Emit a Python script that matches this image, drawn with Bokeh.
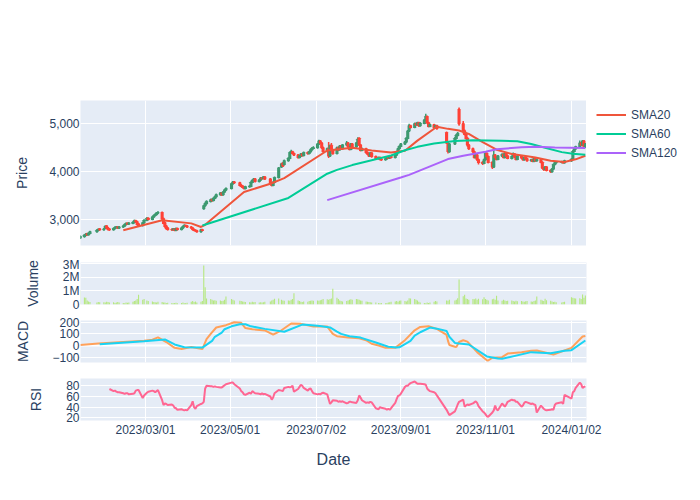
import pandas as pd
from bokeh.plotting import figure
from bokeh.layouts import column, row
from bokeh.models import (ColumnDataSource, Range1d, FixedTicker, DatetimeTickFormatter,
                          NumeralTickFormatter, Legend, LegendItem, Span)
from bokeh.embed import file_html
from bokeh.resources import INLINE

FONT = "Liberation Sans"
TXT = "#2a3f5f"
BG = "#E5ECF6"
DAY_MS = 86400000

# ---------------- data ----------------
HOLIDAYS = ["2023-01-23", "2023-01-24", "2023-03-01", "2023-05-01", "2023-05-05", "2023-05-29",
            "2023-06-06", "2023-08-15", "2023-09-28", "2023-09-29", "2023-10-02", "2023-10-03",
            "2023-10-09", "2023-12-25", "2023-12-29", "2024-01-01"]
trading_days = [d for d in pd.bdate_range("2023-01-13", "2024-01-12")
                if d.strftime("%Y-%m-%d") not in HOLIDAYS]

TICK_DATES = ["2023-03-01", "2023-05-01", "2023-07-02", "2023-09-01", "2023-11-01", "2024-01-02"]

open_ = [
    2620,
    2650, 2680, 2710, 2690, 2720,
    2750, 2780, 2810,
    2790, 2830, 2870, 2830, 2810,
    2790, 2820, 2840, 2850, 2830,
    2850, 2870, 2900, 2930, 2910,
    2930, 2950, 2980, 2960, 2910,
    2880, 2940, 2990, 3030,
    3010, 3060, 3090, 3110, 3140,
    3150, 3020, 2940, 2870, 2830,
    2800, 2790, 2810, 2780, 2820,
    2800, 2830, 2860, 2880, 2870,
    2850, 2830, 2800, 2780, 2770,
    2750, 2790, 3230, 3290, 3340,
    3380, 3420, 3400, 3450, 3480,
    3520, 3560, 3520, 3580, 3620,
    3650, 3750, 3790,
    3770, 3720, 3700, 3680, 3650,
    3690, 3700, 3780, 3820, 3850,
    3800, 3830, 3870, 3860, 3890,
    3850, 3760, 3720, 3780,
    3880, 4100, 4180, 4150,
    4230, 4280, 4400, 4420, 4380,
    4350, 4300, 4330, 4370, 4340,
    4400, 4380, 4420, 4460, 4490,
    4500, 4580, 4640, 4600, 4500,
    4430, 4480, 4330, 4550, 4450,
    4380, 4500, 4460, 4540, 4480,
    4560, 4600, 4520, 4470, 4580,
    4520, 4600, 4700, 4560, 4450,
    4480, 4400, 4370, 4330, 4390,
    4320, 4280, 4300, 4260,
    4250, 4270, 4300, 4290, 4320,
    4300, 4350, 4420, 4480, 4530,
    4580, 4620, 4700, 4850, 4960,
    4930, 5000, 4980, 5020, 4960,
    5010, 5080, 5150, 5020, 4950,
    4980, 4920, 4960,
    4820, 4600, 4420,
    4580, 4700, 4760, 5300,
    5000, 4850, 4780, 4700, 4560,
    4480, 4420, 4300, 4350, 4250,
    4200, 4180, 4250, 4380, 4320,
    4200, 4100, 4350, 4300, 4260,
    4330, 4360, 4300, 4380, 4330,
    4280, 4320, 4370, 4310, 4260,
    4330, 4290, 4250, 4300, 4270,
    4230, 4250, 4220, 4270, 4230,
    4250, 4200, 4080, 4050, 4100,
    4030, 4000, 4060, 4150, 4190,
    4200, 4210, 4190,
    4230, 4260, 4430, 4480,
    4520, 4600, 4560, 4640, 4520,
]

close_ = [
    2650,
    2680, 2700, 2690, 2720, 2750,
    2780, 2800, 2790,
    2810, 2860, 2830, 2800, 2790,
    2820, 2840, 2850, 2830, 2850,
    2870, 2900, 2920, 2910, 2930,
    2950, 2980, 2960, 2900, 2880,
    2940, 2990, 3030, 3010,
    3060, 3090, 3110, 3140, 3150,
    3020, 2930, 2860, 2820, 2800,
    2790, 2810, 2780, 2820, 2800,
    2830, 2860, 2880, 2870, 2850,
    2830, 2800, 2780, 2770, 2750,
    2790, 2780, 3290, 3340, 3380,
    3420, 3400, 3450, 3480, 3520,
    3560, 3520, 3580, 3620, 3650,
    3750, 3790, 3770,
    3720, 3700, 3680, 3650, 3690,
    3700, 3780, 3820, 3850, 3800,
    3830, 3870, 3860, 3890, 3850,
    3760, 3720, 3780, 3880,
    4080, 4160, 4120, 4230,
    4280, 4400, 4420, 4380, 4350,
    4300, 4330, 4370, 4340, 4400,
    4380, 4420, 4460, 4490, 4500,
    4580, 4640, 4600, 4500, 4430,
    4480, 4330, 4550, 4450, 4380,
    4500, 4460, 4540, 4480, 4560,
    4600, 4520, 4470, 4580, 4520,
    4600, 4680, 4560, 4450, 4480,
    4400, 4370, 4330, 4390, 4320,
    4280, 4300, 4260, 4250,
    4270, 4300, 4290, 4320, 4300,
    4350, 4420, 4480, 4530, 4580,
    4620, 4700, 4850, 4960, 4930,
    5000, 4980, 5020, 4960, 5010,
    5080, 5150, 5020, 4950, 4980,
    4920, 4960, 4900,
    4600, 4430, 4580,
    4700, 4760, 4800, 5000,
    4850, 4780, 4700, 4560, 4480,
    4420, 4300, 4350, 4250, 4200,
    4180, 4250, 4380, 4320, 4200,
    4100, 4350, 4300, 4260, 4330,
    4360, 4300, 4380, 4330, 4280,
    4320, 4370, 4310, 4260, 4330,
    4290, 4250, 4300, 4270, 4230,
    4250, 4220, 4270, 4230, 4250,
    4200, 4080, 4050, 4100, 4030,
    4000, 4060, 4150, 4190, 4200,
    4210, 4190, 4230,
    4260, 4430, 4480, 4520,
    4600, 4560, 4640, 4520, 4580,
]

high_ = [
    2670,
    2700, 2720, 2720, 2730, 2760,
    2800, 2820, 2820,
    2830, 2880, 2880, 2850, 2820,
    2830, 2860, 2870, 2860, 2860,
    2880, 2910, 2940, 2940, 2950,
    2960, 3000, 2990, 2970, 2920,
    2950, 3000, 3050, 3040,
    3070, 3100, 3130, 3160, 3180,
    3160, 3040, 2960, 2880, 2840,
    2820, 2830, 2820, 2830, 2830,
    2840, 2870, 2900, 2890, 2880,
    2860, 2840, 2810, 2790, 2780,
    2800, 2810, 3310, 3360, 3400,
    3440, 3440, 3460, 3500, 3540,
    3580, 3570, 3590, 3640, 3670,
    3770, 3810, 3800,
    3780, 3740, 3720, 3700, 3700,
    3720, 3790, 3840, 3870, 3860,
    3840, 3890, 3880, 3910, 3900,
    3860, 3780, 3790, 3890,
    4100, 4190, 4200, 4250,
    4300, 4420, 4460, 4430, 4390,
    4360, 4340, 4390, 4380, 4410,
    4410, 4430, 4480, 4510, 4530,
    4590, 4670, 4660, 4610, 4520,
    4500, 4620, 4560, 4600, 4470,
    4520, 4520, 4560, 4560, 4580,
    4640, 4610, 4540, 4600, 4600,
    4620, 4720, 4710, 4570, 4500,
    4490, 4420, 4390, 4400, 4400,
    4330, 4310, 4310, 4280,
    4290, 4310, 4310, 4330, 4330,
    4360, 4430, 4500, 4540, 4600,
    4640, 4720, 4870, 5000, 4970,
    5020, 5020, 5040, 5030, 5030,
    5090, 5210, 5160, 5030, 5000,
    4990, 4970, 4970,
    4830, 4620, 4600,
    4720, 4790, 4830, 5340,
    5060, 4880, 4800, 4720, 4580,
    4500, 4440, 4370, 4360, 4270,
    4220, 4270, 4400, 4400, 4330,
    4210, 4470, 4360, 4310, 4340,
    4380, 4380, 4400, 4390, 4340,
    4330, 4400, 4380, 4320, 4340,
    4340, 4300, 4310, 4320, 4280,
    4260, 4270, 4280, 4280, 4260,
    4260, 4210, 4100, 4110, 4110,
    4040, 4070, 4160, 4200, 4220,
    4220, 4220, 4240,
    4270, 4450, 4500, 4540,
    4650, 4620, 4660, 4650, 4600,
]

low_ = [
    2600,
    2630, 2670, 2680, 2680, 2710,
    2740, 2770, 2780,
    2780, 2820, 2820, 2790, 2770,
    2780, 2810, 2830, 2820, 2820,
    2840, 2860, 2890, 2900, 2900,
    2920, 2940, 2950, 2890, 2860,
    2870, 2930, 2980, 3000,
    3000, 3050, 3080, 3100, 3120,
    3000, 2910, 2840, 2800, 2780,
    2770, 2780, 2770, 2770, 2790,
    2790, 2820, 2850, 2860, 2840,
    2820, 2790, 2770, 2750, 2740,
    2740, 2770, 3220, 3280, 3320,
    3370, 3380, 3390, 3440, 3470,
    3510, 3500, 3510, 3570, 3610,
    3640, 3740, 3750,
    3710, 3690, 3660, 3640, 3640,
    3680, 3690, 3770, 3810, 3790,
    3790, 3820, 3840, 3850, 3840,
    3750, 3700, 3710, 3770,
    3870, 4080, 4100, 4140,
    4220, 4270, 4390, 4370, 4330,
    4280, 4290, 4320, 4320, 4330,
    4360, 4370, 4410, 4450, 4480,
    4490, 4570, 4590, 4480, 4400,
    4420, 4290, 4320, 4430, 4360,
    4370, 4440, 4450, 4470, 4470,
    4550, 4500, 4450, 4460, 4500,
    4510, 4590, 4540, 4430, 4440,
    4380, 4350, 4310, 4320, 4300,
    4250, 4260, 4240, 4230,
    4240, 4260, 4270, 4280, 4290,
    4290, 4340, 4410, 4470, 4520,
    4570, 4600, 4690, 4830, 4900,
    4920, 4960, 4960, 4940, 4950,
    5000, 5070, 5000, 4930, 4940,
    4900, 4910, 4880,
    4580, 4380, 4400,
    4570, 4680, 4740, 4960,
    4800, 4760, 4680, 4520, 4460,
    4400, 4280, 4280, 4230, 4150,
    4140, 4160, 4240, 4300, 4180,
    4060, 4080, 4280, 4240, 4250,
    4310, 4290, 4290, 4320, 4270,
    4260, 4310, 4300, 4240, 4250,
    4280, 4240, 4240, 4260, 4220,
    4220, 4210, 4210, 4220, 4220,
    4190, 4060, 4020, 4040, 4010,
    3980, 3990, 4050, 4140, 4180,
    4180, 4180, 4180,
    4210, 4250, 4420, 4460,
    4510, 4540, 4550, 4500, 4500,
]

# volume in millions of shares
volume_m = [
    1.04,
    0.52, 0.50, 0.30, 0.22, 0.18,
    0.15, 0.18, 0.16,
    0.17, 0.15, 0.20, 0.18, 0.14,
    0.16, 0.12, 0.15, 0.18, 0.14,
    0.12, 0.10, 0.14, 0.13, 0.15,
    0.20, 0.25, 0.30, 0.40, 0.72,
    0.35, 0.40, 0.30, 0.25,
    0.22, 0.18, 0.16, 0.15, 0.20,
    0.18, 0.15, 0.14, 0.12, 0.13,
    0.12, 0.10, 0.11, 0.13, 0.10,
    0.12, 0.14, 0.10, 0.12, 0.13,
    0.20, 0.25, 0.18, 0.22, 0.15,
    0.20, 0.25, 2.89, 1.28, 0.45,
    0.40, 0.35, 0.30, 0.32, 0.28,
    0.30, 0.25, 0.28, 0.35, 0.59,
    0.40, 0.35, 0.30,
    0.28, 0.25, 0.22, 0.20, 0.18,
    0.17, 0.15, 0.20, 0.16, 0.18,
    0.15, 0.17, 0.14, 0.16, 0.20,
    0.22, 0.30, 0.35, 0.42,
    0.45, 0.35, 0.30, 0.28,
    0.30, 0.28, 0.35, 0.40, 0.84,
    0.30, 0.25, 0.20, 0.18, 0.22,
    0.20, 0.25, 0.28, 0.30, 0.27,
    0.30, 0.28, 0.32, 0.35, 0.40,
    0.38, 0.35, 0.40, 0.45, 1.16,
    0.50, 0.40, 0.30, 0.25, 0.22,
    0.25, 0.30, 0.35, 0.38, 0.35,
    0.40, 0.38, 0.35, 0.30, 0.28,
    0.22, 0.20, 0.18, 0.16, 0.15,
    0.14, 0.12, 0.10, 0.12,
    0.10, 0.12, 0.14, 0.16, 0.20,
    0.22, 0.25, 0.20, 0.28, 0.30,
    0.25, 0.22, 0.30, 0.47, 0.45,
    0.40, 0.35, 0.30, 0.20, 0.15,
    0.12, 0.10, 0.14, 0.12, 0.15,
    0.20, 0.25, 0.22,
    0.30, 0.28, 0.35,
    0.30, 0.35, 0.47, 1.85,
    0.62, 0.72, 0.45, 0.40, 0.35,
    0.40, 0.38, 0.45, 0.35, 0.42,
    0.38, 0.54, 0.40, 0.35, 0.30,
    0.38, 0.42, 0.35, 0.64, 0.30,
    0.28, 0.35, 0.30, 0.25, 0.27,
    0.30, 0.25, 0.22, 0.28, 0.24,
    0.25, 0.22, 0.20, 0.24, 0.26,
    0.22, 0.20, 0.25, 0.30, 0.60,
    0.35, 0.30, 0.25, 0.42, 0.32,
    0.28, 0.22, 0.18, 0.20, 0.16,
    0.15, 0.18, 0.20,
    0.54, 0.50, 0.47, 0.45,
    0.47, 0.40, 0.74, 0.50, 0.67,
]

sma20_dates = ["2023-02-13", "2023-03-13", "2023-04-03", "2023-04-10", "2023-04-13", "2023-05-11",
               "2023-05-30", "2023-06-09", "2023-07-10", "2023-07-28", "2023-08-11", "2023-08-25",
               "2023-09-04", "2023-09-13", "2023-09-27", "2023-10-05", "2023-10-13", "2023-10-20",
               "2023-10-30", "2023-11-09", "2023-11-20", "2023-11-30", "2023-12-07", "2023-12-18",
               "2023-12-28", "2024-01-05", "2024-01-12"]
sma20_vals = [2780, 2990, 2925, 2850, 2896, 3580,
              3750, 3868, 4444, 4500, 4444, 4400,
              4440, 4650, 4940, 4895, 4860, 4790,
              4620, 4460, 4370, 4330, 4300, 4230,
              4205, 4260, 4335]

sma60_dates = ["2023-04-11", "2023-06-12", "2023-07-10", "2023-07-17", "2023-07-28", "2023-08-11",
               "2023-08-25", "2023-09-04", "2023-09-13", "2023-09-25", "2023-10-10", "2023-10-23",
               "2023-11-13", "2023-11-24", "2023-12-04", "2023-12-14", "2023-12-26", "2024-01-03",
               "2024-01-12"]
sma60_vals = [2880, 3455, 3960, 4040, 4140, 4240,
              4340, 4450, 4520, 4590, 4640, 4655,
              4645, 4635, 4580, 4500, 4410, 4375,
              4355]

sma120_dates = ["2023-07-10", "2023-09-01", "2023-09-07", "2023-10-05", "2023-10-16", "2023-11-01",
                "2023-11-09", "2023-11-27", "2023-12-08", "2023-12-21", "2024-01-12"]
sma120_vals = [3410, 3880, 3935, 4265, 4335, 4420,
               4470, 4510, 4520, 4505, 4495]

macd_dates = ["2023-01-13", "2023-01-26", "2023-02-28", "2023-03-06", "2023-03-10", "2023-03-16",
              "2023-03-22", "2023-03-27", "2023-04-03", "2023-04-11", "2023-04-14", "2023-04-17",
              "2023-04-21", "2023-04-28", "2023-05-04", "2023-05-09", "2023-05-12", "2023-05-17",
              "2023-05-26", "2023-06-01", "2023-06-07", "2023-06-14", "2023-06-21", "2023-06-30",
              "2023-07-10", "2023-07-14", "2023-07-17", "2023-07-25", "2023-08-02", "2023-08-07",
              "2023-08-11", "2023-08-16", "2023-08-21", "2023-08-28", "2023-09-04", "2023-09-11",
              "2023-09-15", "2023-09-21", "2023-09-27", "2023-10-04", "2023-10-05", "2023-10-06",
              "2023-10-10", "2023-10-11", "2023-10-13", "2023-10-16", "2023-10-19", "2023-10-26",
              "2023-11-02", "2023-11-03", "2023-11-06", "2023-11-13", "2023-11-17", "2023-11-27",
              "2023-12-04", "2023-12-08", "2023-12-20", "2024-01-02", "2024-01-10", "2024-01-12"]
macd_vals = [4, 17, 40, 50, 70, 30,
             -20, -30, -12, -31, 55, 100,
             155, 175, 200, 195, 150, 140,
             130, 94, 131, 189, 186, 163,
             163, 100, 80, 69, 62, 45,
             15, 0, -20, -20, 46, 131,
             160, 166, 143, 91, 40, 5,
             -10, -14, 30, 45, 33, -57,
             -126, -129, -105, -100, -69, -57,
             -46, -43, -77, -20, 77, 82]

signal_dates = ["2023-01-27", "2023-02-28", "2023-03-15", "2023-03-22", "2023-03-29", "2023-04-11",
                "2023-04-18", "2023-04-20", "2023-04-25", "2023-04-27", "2023-05-02", "2023-05-08",
                "2023-05-12", "2023-05-16", "2023-05-26", "2023-06-09", "2023-06-22", "2023-07-03",
                "2023-07-06", "2023-07-12", "2023-07-17", "2023-07-20", "2023-07-26", "2023-08-03",
                "2023-08-14", "2023-08-23", "2023-08-29", "2023-08-31", "2023-09-08", "2023-09-11",
                "2023-09-15", "2023-09-22", "2023-09-27", "2023-10-04", "2023-10-05", "2023-10-06",
                "2023-10-10", "2023-10-13", "2023-10-20", "2023-11-02", "2023-11-10", "2023-11-13",
                "2023-12-04", "2023-12-18", "2023-12-28", "2024-01-02", "2024-01-12"]
signal_vals = [10, 37, 52, 9, -15, -18,
               40, 75, 110, 140, 165, 183,
               183, 165, 143, 118, 180, 170,
               166, 155, 120, 100, 80, 68,
               26, -11, -18, -15, 40, 85,
               114, 154, 145, 125, 100, 75,
               22, 18, 9, -94, -111, -114,
               -57, -66, -45, -40, 43]

# RSI from the 14th trading day (index 13) on
rsi_vals = [
    74,
    70, 71, 69, 68, 68,
    66, 65, 66, 66, 64,
    65, 66, 71, 72, 72,
    57, 62, 67, 69,
    71, 70, 68, 70, 72,
    53, 44, 47, 46, 44,
    45, 43, 39, 38, 35,
    36, 35, 34, 35, 34,
    44, 51, 40, 37, 42,
    46, 47, 50, 75, 80,
    79, 79, 78, 79, 78,
    77, 77, 79, 81, 83,
    86, 86, 83,
    75, 70, 68, 64, 63,
    67, 65, 70, 68, 66,
    65, 64, 66, 64, 65,
    60, 54, 58, 66,
    72, 71, 70, 76,
    78, 77, 78, 80, 69,
    74, 78, 82, 80, 76,
    71, 74, 75, 70, 66,
    64, 65, 64, 66, 67,
    64, 55, 46, 49, 53,
    52, 50, 51, 50, 51,
    47, 48, 50, 50, 49,
    48, 53, 62, 58, 53,
    48, 49, 48, 50, 49,
    38, 36, 40, 39,
    37, 35, 37, 35, 38,
    48, 55, 61, 62, 65,
    78, 80, 80, 83, 85,
    88, 86, 84, 84, 84,
    83, 82, 75, 72, 70,
    68, 66, 62,
    35, 30, 25,
    32, 38, 45, 50,
    54, 41, 43, 45, 44,
    47, 49, 51, 48, 42,
    32, 30, 27, 23, 22,
    30, 34, 43, 36, 34,
    47, 44, 41, 45, 50,
    54, 53, 53, 50, 50,
    41, 43, 48, 50, 49,
    46, 47, 45, 44, 30,
    43, 40, 37, 35, 34,
    35, 36, 35, 44, 47,
    49, 46, 63,
    56, 68, 70, 76,
    86, 83, 76, 78, 79,
]

# ---------------- sources ----------------
INC, DEC = "#3D9970", "#FF4136"
src = ColumnDataSource(dict(
    date=trading_days, open=open_, close=close_, high=high_, low=low_,
    top=[max(o, c) for o, c in zip(open_, close_)],
    bottom=[min(o, c) for o, c in zip(open_, close_)],
    color=[INC if c >= o else DEC for o, c in zip(open_, close_)],
    volume=volume_m,
))


def ts(lst):
    return [pd.Timestamp(d) for d in lst]


tick_ms = [pd.Timestamp(t).value / 1e6 for t in TICK_DATES]
x_range = Range1d(start=pd.Timestamp("2023-01-13 04:00"), end=pd.Timestamp("2024-01-12 20:00"))

FRAME_W = 506
LEFT = 80
RIGHT = 114


def make_fig(frame_h, top, bottom, y_range, ticks, label, standoff, right=RIGHT, show_x=False):
    p = figure(width=LEFT + FRAME_W + right, height=top + frame_h + bottom,
               frame_width=FRAME_W, frame_height=frame_h,
               x_range=x_range, y_range=y_range,
               x_axis_type="datetime", x_axis_location="below" if show_x else None,
               output_backend="svg", toolbar_location=None, tools="",
               min_border_left=LEFT, min_border_right=right,
               min_border_top=top, min_border_bottom=bottom,
               background_fill_color=BG, border_fill_color="white",
               outline_line_color=None)
    p.xgrid.ticker = FixedTicker(ticks=tick_ms)
    p.xgrid.grid_line_color = "white"
    p.xgrid.grid_line_width = 1
    p.ygrid.grid_line_color = "white"
    p.ygrid.grid_line_width = 1
    ax = p.yaxis[0]
    ax.ticker = FixedTicker(ticks=ticks)
    ax.axis_line_color = None
    ax.major_tick_line_color = None
    ax.minor_tick_line_color = None
    ax.major_tick_out = 0
    ax.major_tick_in = 0
    ax.minor_tick_out = 0
    ax.major_label_text_font = FONT
    ax.major_label_text_font_size = "12px"
    ax.major_label_text_color = TXT
    ax.major_label_standoff = 1
    ax.axis_label = label
    ax.axis_label_text_font = FONT
    ax.axis_label_text_font_size = "14px"
    ax.axis_label_text_font_style = "normal"
    ax.axis_label_text_color = TXT
    ax.axis_label_standoff = standoff
    return p


TOP1 = 100
# price panel
p1 = make_fig(145, TOP1, 12, Range1d(2464, 5486), [3000, 4000, 5000], "Price", 16, right=0)
p1.yaxis[0].formatter = NumeralTickFormatter(format="0,0")
p1.segment(x0="date", y0="low", x1="date", y1="high", color="color", line_width=1.5, source=src)
p1.vbar(x="date", width=0.8 * DAY_MS, top="top", bottom="bottom", fill_color="color",
        fill_alpha=0.5, line_color="color", line_width=2, source=src)
p1.line(ts(sma20_dates), sma20_vals, color="#EF553B", line_width=2)
p1.line(ts(sma60_dates), sma60_vals, color="#00CC96", line_width=2)
p1.line(ts(sma120_dates), sma120_vals, color="#AB63FA", line_width=2)

# legend panel (separate canvas to the right of the price frame)
leg_h = TOP1 + 145 + 12
pl = figure(width=RIGHT, height=leg_h, x_range=Range1d(0, 1), y_range=Range1d(0, 1),
            x_axis_location=None, y_axis_location=None, output_backend="svg",
            toolbar_location=None, tools="", min_border=0, outline_line_color=None,
            background_fill_color="white", border_fill_color="white")
pl.xgrid.visible = False
pl.ygrid.visible = False
# legend-only renderers, kept outside the visible range of this canvas
l20 = pl.line([5, 6], [5, 6], color="#EF553B", line_width=2)
l60 = pl.line([5, 6], [5, 6], color="#00CC96", line_width=2)
l120 = pl.line([5, 6], [5, 6], color="#AB63FA", line_width=2)
legend = Legend(items=[LegendItem(label="SMA20", renderers=[l20]),
                       LegendItem(label="SMA60", renderers=[l60]),
                       LegendItem(label="SMA120", renderers=[l120])],
                location=(10, leg_h - 107 - 67), glyph_width=30, glyph_height=19, label_height=19,
                label_standoff=5, spacing=0, padding=5, margin=0,
                border_line_color=None, background_fill_alpha=0,
                label_text_font=FONT, label_text_font_size="12px", label_text_color=TXT)
pl.add_layout(legend, "center")

# volume panel
p2 = make_fig(42, 5, 11, Range1d(0, 3.11), [0, 1, 2, 3], "Volume", 19)
p2.yaxis[0].major_label_overrides = {0: "0", 1: "1M", 2: "2M", 3: "3M"}
p2.xgrid.visible = False
p2.vbar(x="date", width=0.8 * DAY_MS, top="volume", bottom=0, fill_color="#B6E880",
        line_color=None, source=src)

# MACD panel
p3 = make_fig(42, 5, 11, Range1d(-146, 215), [-100, 0, 100, 200], "MACD", 18)
p3.yaxis[0].major_label_overrides = {-100: "\u2212100"}
p3.add_layout(Span(location=0, dimension="width", line_color="white", line_width=2, level="underlay"))
p3.line(ts(macd_dates), macd_vals, color="#FFA15A", line_width=2)
p3.line(ts(signal_dates), signal_vals, color="#19D3F3", line_width=2)

# RSI panel
p4 = make_fig(42, 5, 72, Range1d(15, 93.7), [20, 40, 60, 80], "RSI", 19, show_x=True)
p4.line(trading_days[13:], rsi_vals, color="#FF6692", line_width=2)
xa = p4.xaxis[0]
xa.ticker = FixedTicker(ticks=tick_ms)
fmt = "%Y/%m/%d"
xa.formatter = DatetimeTickFormatter(days=fmt, months=fmt, years=fmt, hours=fmt, hourmin=fmt)
xa.axis_line_color = None
xa.major_tick_line_color = None
xa.minor_tick_line_color = None
xa.major_tick_out = 0
xa.major_tick_in = 0
xa.minor_tick_out = 0
xa.major_label_text_font = FONT
xa.major_label_text_font_size = "12px"
xa.major_label_text_color = TXT
xa.major_label_standoff = 2
xa.axis_label = "Date"
xa.axis_label_text_font = FONT
xa.axis_label_text_font_size = "16px"
xa.axis_label_text_font_style = "normal"
xa.axis_label_text_color = TXT
xa.axis_label_standoff = 11

layout = column(row(p1, pl, spacing=0), p2, p3, p4, spacing=0)
open("out.html", "w").write(file_html(layout, INLINE, title="chart"))
